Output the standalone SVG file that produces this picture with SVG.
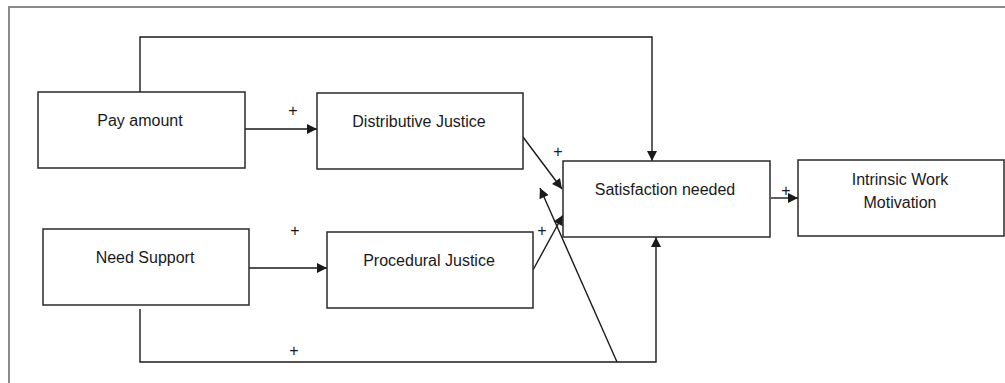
<svg xmlns="http://www.w3.org/2000/svg" width="1005" height="383" viewBox="0 0 1005 383">
  <style>
    .box { fill: #ffffff; stroke: #2a2a2a; stroke-width: 1.5; }
    .lbl { font-family: "Liberation Sans", Arial, sans-serif; font-size: 16px; fill: #1a1a1a; text-anchor: middle; }
    .plus { font-family: "Liberation Sans", Arial, sans-serif; font-size: 16px; fill: #1a1a1a; text-anchor: middle; }
    .link { fill: none; stroke: #1a1a1a; stroke-width: 1.4; }
  </style>
  <defs>
    <marker id="arrow" viewBox="0 0 10 10" refX="10" refY="5" markerWidth="11" markerHeight="10" markerUnits="userSpaceOnUse" orient="auto">
      <path d="M0,0 L10,5 L0,10 z" fill="#1a1a1a"/>
    </marker>
  </defs>

  <rect width="1005" height="383" fill="#ffffff"/>
  <!-- outer frame -->
  <rect x="9" y="7" width="1010" height="400" fill="none" stroke="#8a8a8a" stroke-width="2"/>

  <g id="connectors">
    <!-- Pay amount -> Satisfaction (over the top) -->
    <path class="link" d="M140,92 V37 H652 V161" marker-end="url(#arrow)"/>
    <!-- Pay amount -> Distributive Justice -->
    <path class="link" d="M245,129 H317" marker-end="url(#arrow)"/>
    <!-- Distributive Justice -> Satisfaction -->
    <path class="link" d="M523,137 L562,189" marker-end="url(#arrow)"/>
    <!-- Need Support -> Procedural Justice -->
    <path class="link" d="M249,268 H327" marker-end="url(#arrow)"/>
    <!-- Procedural Justice -> Satisfaction -->
    <path class="link" d="M533,270 L563,215" marker-end="url(#arrow)"/>
    <!-- Need Support -> Satisfaction (along the bottom) -->
    <path class="link" d="M140,309 V362 H656 V237" marker-end="url(#arrow)"/>
    <!-- branch from bottom line up towards Satisfaction -->
    <path class="link" d="M617,362 L540,188" marker-end="url(#arrow)"/>
    <!-- Satisfaction -> Intrinsic Work Motivation -->
    <path class="link" d="M771,198 H798" marker-end="url(#arrow)"/>

    <text class="plus" x="293" y="116">+</text>
    <text class="plus" x="558" y="157">+</text>
    <text class="plus" x="295" y="236">+</text>
    <text class="plus" x="542" y="236">+</text>
    <text class="plus" x="294" y="356">+</text>
    <text class="plus" x="786" y="196">+</text>
  </g>

  <g id="pay-amount">
    <rect class="box" x="38" y="92" width="207" height="76"/>
    <text class="lbl" x="140" y="126">Pay amount</text>
  </g>
  <g id="distributive-justice">
    <rect class="box" x="317" y="93" width="206" height="76"/>
    <text class="lbl" x="419" y="127">Distributive Justice</text>
  </g>
  <g id="need-support">
    <rect class="box" x="43" y="229" width="206" height="76"/>
    <text class="lbl" x="145" y="263">Need Support</text>
  </g>
  <g id="procedural-justice">
    <rect class="box" x="327" y="232" width="206" height="76"/>
    <text class="lbl" x="429" y="266">Procedural Justice</text>
  </g>
  <g id="satisfaction-needed">
    <rect class="box" x="563" y="161" width="207" height="76"/>
    <text class="lbl" x="665" y="195">Satisfaction needed</text>
  </g>
  <g id="intrinsic-work-motivation">
    <rect class="box" x="798" y="160" width="206" height="76"/>
    <text class="lbl" x="900" y="185">Intrinsic Work</text>
    <text class="lbl" x="900" y="208">Motivation</text>
  </g>
</svg>
